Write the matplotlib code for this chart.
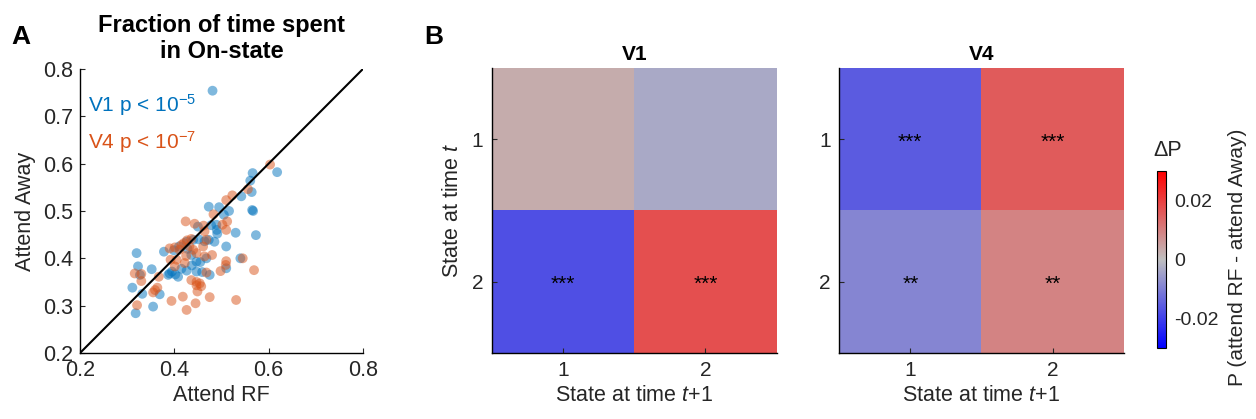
import numpy as np
import matplotlib
matplotlib.use('Agg')
import matplotlib.pyplot as plt
from matplotlib.colors import LinearSegmentedColormap

plt.rcParams['font.family'] = ['Liberation Sans', 'DejaVu Sans']
plt.rcParams['mathtext.fontset'] = 'custom'
plt.rcParams['mathtext.rm'] = 'Liberation Sans'
plt.rcParams['mathtext.it'] = 'Liberation Sans:italic'
plt.rcParams['axes.linewidth'] = 1.0

# Panel A: fraction of time in On-state (attend RF vs attend away)
v1_rf = [0.618, 0.566, 0.561, 0.564, 0.542, 0.473, 0.495, 0.516, 0.565, 0.567,
         0.505, 0.489, 0.490, 0.491, 0.530, 0.573, 0.450, 0.510, 0.473, 0.464,
         0.485, 0.426, 0.440, 0.320, 0.378, 0.399, 0.436, 0.468, 0.447, 0.540,
         0.323, 0.352, 0.390, 0.387, 0.408, 0.426, 0.447, 0.459, 0.475, 0.510,
         0.327, 0.311, 0.332, 0.369, 0.355, 0.318, 0.481, 0.395, 0.402, 0.415,
         0.437, 0.455, 0.452, 0.478, 0.410, 0.428]
v1_away = [0.582, 0.580, 0.564, 0.540, 0.531, 0.509, 0.508, 0.500, 0.502, 0.500,
           0.492, 0.471, 0.460, 0.452, 0.454, 0.449, 0.467, 0.425, 0.439, 0.436,
           0.435, 0.435, 0.439, 0.411, 0.414, 0.417, 0.407, 0.400, 0.393, 0.400,
           0.383, 0.377, 0.368, 0.365, 0.361, 0.374, 0.372, 0.371, 0.365, 0.379,
           0.365, 0.338, 0.325, 0.324, 0.298, 0.284, 0.754, 0.372, 0.366, 0.378,
           0.385, 0.392, 0.440, 0.470, 0.425, 0.420]
v4_rf = [0.603, 0.556, 0.523, 0.510, 0.483, 0.424, 0.443, 0.462, 0.464, 0.512,
         0.510, 0.502, 0.468, 0.427, 0.390, 0.401, 0.411, 0.415, 0.420, 0.432,
         0.461, 0.447, 0.392, 0.405, 0.422, 0.401, 0.510, 0.509, 0.545, 0.464,
         0.480, 0.498, 0.468, 0.569, 0.316, 0.330, 0.330, 0.367, 0.436, 0.447,
         0.454, 0.447, 0.457, 0.449, 0.359, 0.355, 0.364, 0.418, 0.475, 0.321,
         0.394, 0.426, 0.445, 0.531, 0.436, 0.440, 0.425]
v4_away = [0.598, 0.546, 0.533, 0.523, 0.493, 0.478, 0.473, 0.469, 0.457, 0.478,
           0.460, 0.471, 0.439, 0.438, 0.421, 0.423, 0.418, 0.428, 0.432, 0.425,
           0.425, 0.411, 0.397, 0.397, 0.390, 0.383, 0.394, 0.386, 0.400, 0.404,
           0.407, 0.373, 0.370, 0.375, 0.368, 0.367, 0.352, 0.361, 0.354, 0.350,
           0.347, 0.343, 0.341, 0.330, 0.333, 0.328, 0.338, 0.319, 0.318, 0.301,
           0.310, 0.291, 0.305, 0.312, 0.441, 0.418, 0.405]

# Panel B: change in transition probability (attend RF - attend away)
states = [1, 2]
dp_v1 = [[0.003, -0.0035],
         [-0.0175, 0.0175]]
dp_v4 = [[-0.0155, 0.0155],
         [-0.009, 0.0093]]
stars_v1 = [['', ''], ['***', '***']]
stars_v4 = [['***', '***'], ['**', '**']]

blue = '#0072BD'
orange = '#D95319'
tcol = '#262626'

fig = plt.figure(figsize=(12.56, 4.19), dpi=100)

# ---- panel A ----
ax = fig.add_axes([0.0637, 0.1575, 0.2253, 0.678])
ax.scatter(v1_rf, v1_away, s=50, color=blue, alpha=0.5, edgecolors='none')
ax.scatter(v4_rf, v4_away, s=50, color=orange, alpha=0.5, edgecolors='none')
ax.plot([0.2, 0.8], [0.2, 0.8], color='k', lw=1.5)
ax.set_xlim(0.2, 0.8)
ax.set_ylim(0.2, 0.8)
ax.set_xticks([0.2, 0.4, 0.6, 0.8])
ax.set_yticks([0.2, 0.3, 0.4, 0.5, 0.6, 0.7, 0.8])
ax.spines['top'].set_visible(False)
ax.spines['right'].set_visible(False)
ax.tick_params(direction='in', labelsize=15.5, colors=tcol, pad=5)
ax.set_xlabel('Attend RF', fontsize=15.5, color=tcol, labelpad=3)
ax.set_ylabel('Attend Away', fontsize=15.5, color=tcol, labelpad=5)
ax.set_title('Fraction of time spent\nin On-state', fontsize=17, fontweight='bold',
             pad=8, linespacing=1.15)
ax.text(0.217, 0.724, 'V1 p < 10$^{-5}$', color=blue, fontsize=15, va='center')
ax.text(0.217, 0.646, 'V4 p < 10$^{-7}$', color=orange, fontsize=15, va='center')
fig.text(0.009, 0.895, 'A', fontsize=19, fontweight='bold')
fig.text(0.338, 0.895, 'B', fontsize=19, fontweight='bold')

# ---- panel B ----
cmap = LinearSegmentedColormap.from_list('bgr', [(0, 0, 1), (0.75, 0.75, 0.75), (1, 0, 0)])
lefts = [0.3915, 0.668]
for left, dp, st, name in zip(lefts, [dp_v1, dp_v4], [stars_v1, stars_v4], ['V1', 'V4']):
    axh = fig.add_axes([left, 0.1575, 0.2269, 0.680])
    im = axh.imshow(np.array(dp), cmap=cmap, vmin=-0.03, vmax=0.03, aspect='auto',
                    extent=[0.5, 2.5, 2.5, 0.5])
    for i in range(2):
        for j in range(2):
            if st[i][j]:
                axh.text(states[j], states[i] + 0.02, st[i][j], ha='center', va='center',
                         fontsize=15)
    axh.set_xticks(states)
    axh.set_yticks(states)
    axh.spines['top'].set_visible(False)
    axh.spines['right'].set_visible(False)
    axh.tick_params(direction='in', labelsize=15, colors=tcol, pad=6)
    axh.set_title(name, fontsize=15, fontweight='bold', pad=6)
    axh.set_xlabel('State at time $\\mathit{t}$$\\mathit{+1}$', fontsize=15.5, color=tcol, labelpad=3)
    if name == 'V1':
        axh.set_ylabel('State at time $\\mathit{t}$', fontsize=15.5, color=tcol, labelpad=6)

cax = fig.add_axes([0.9212, 0.1695, 0.0072, 0.4224])
cb = fig.colorbar(im, cax=cax, ticks=[-0.02, 0, 0.02])
cb.ax.set_yticklabels(['-0.02', '0', '0.02'])
cb.ax.tick_params(direction='in', length=0, labelsize=14, colors=tcol, pad=6)
cb.outline.set_linewidth(0.8)
fig.text(0.930, 0.642, '\u0394P', fontsize=15.5, ha='center', va='center', color=tcol)
fig.text(0.985, 0.387, 'P (attend RF - attend Away)', fontsize=15, rotation=90,
         ha='center', va='center', color=tcol)

fig.savefig('out.png', dpi=100)
